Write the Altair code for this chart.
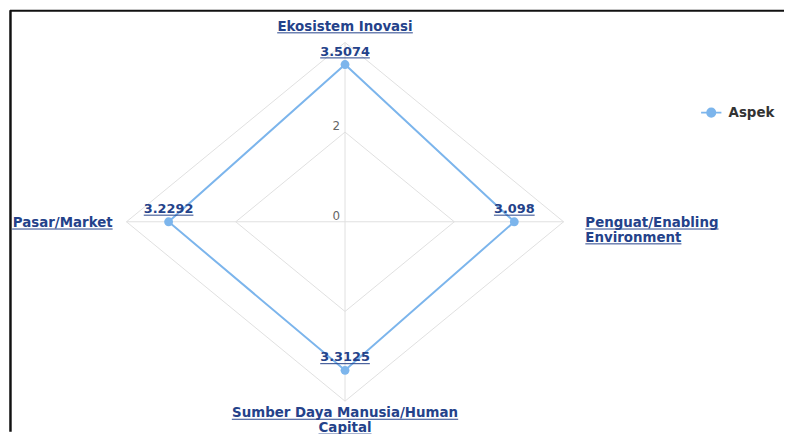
import math
import altair as alt
import pandas as pd

# ---------------- data ----------------
categories = ["Ekosistem Inovasi", "Penguat/Enabling Environment",
              "Sumber Daya Manusia/Human Capital", "Pasar/Market"]
category_lines = [["Ekosistem Inovasi"], ["Penguat/Enabling", "Environment"],
                  ["Sumber Daya Manusia/Human", "Capital"], ["Pasar/Market"]]
values = [3.5074, 3.098, 3.3125, 3.2292]
value_labels = ["3.5074", "3.098", "3.3125", "3.2292"]
tick_values = [0, 2]
grid_levels = [2, 4]
axis_max = 4
series_name = "Aspek"

# ---------------- layout / style ----------------
W, H = 784, 426
CX, CY = 340.5, 213.8          # radar centre inside the plot (px)
RX, RY = 55.2, 45.3            # px per unit, horizontal / vertical
LINE = "#7cb5ec"
LABEL = "#24428a"
GRID = "#e0e0e0"
FONT = "DejaVu Sans"
FS = 13
CFS = 13.5
LH = 15

EM = {' ': .348, '.': .380, '/': .365, 'A': .774, 'C': .734, 'D': .830, 'E': .683,
      'H': .837, 'I': .372, 'M': .995, 'P': .733, 'S': .720, 'a': .675, 'b': .716,
      'c': .593, 'e': .678, 'g': .716, 'h': .712, 'i': .343, 'k': .665, 'l': .343,
      'm': 1.042, 'n': .712, 'o': .687, 'p': .716, 'r': .493, 's': .595, 't': .478,
      'u': .712, 'v': .652, 'y': .652}


def text_w(s, fs=FS):
    return sum(EM.get(c, .696 if c.isdigit() else .68) for c in s) * fs


n = len(categories)
xs = alt.Scale(domain=[-CX / RX, (W - CX) / RX], nice=False, zero=False)
ys = alt.Scale(domain=[-(H - CY) / RY, CY / RY], nice=False, zero=False)


def X(f):
    return alt.X(f, type="quantitative", scale=xs, axis=None)


def Y(f):
    return alt.Y(f, type="quantitative", scale=ys, axis=None)


def ang(i):
    return 2 * math.pi * i / n


# ---------------- frame ----------------
frame_top = alt.Chart(pd.DataFrame({"a": [0]})).mark_rule(color="#111", strokeWidth=2).encode(
    x=alt.value(2), x2=alt.value(W), y=alt.value(0.5))
frame_left = alt.Chart(pd.DataFrame({"a": [0]})).mark_rule(color="#111", strokeWidth=2.5).encode(
    x=alt.value(2.5), y=alt.value(0), y2=alt.value(H))

# ---------------- grid ----------------
grid_df = pd.DataFrame([
    {"level": lv, "i": i, "x": lv * math.sin(ang(i)), "y": lv * math.cos(ang(i))}
    for lv in grid_levels for i in range(n + 1)
])
grid = alt.Chart(grid_df).mark_line(color=GRID, strokeWidth=1).encode(
    x=X("x"), y=Y("y"), detail="level:N", order="i:Q")

spoke_df = pd.DataFrame([
    {"x0": 0.0, "y0": 0.0, "x2": axis_max * math.sin(ang(i)), "y2": axis_max * math.cos(ang(i))}
    for i in range(n)
])
spokes = alt.Chart(spoke_df).mark_rule(color=GRID, strokeWidth=1).encode(
    x=X("x0"), y=Y("y0"), x2="x2:Q", y2="y2:Q")

tick_df = pd.DataFrame({"v": tick_values, "t": [str(v) for v in tick_values], "x0": 0.0})
ticks = alt.Chart(tick_df).mark_text(
    align="right", baseline="alphabetic", dx=-5, dy=-2, font=FONT, fontSize=12, color="#666666"
).encode(x=X("x0"), y=Y("v"), text="t:N")

# ---------------- series ----------------
ser_df = pd.DataFrame({
    "idx": list(range(n)) + [0],
    "order": list(range(n + 1)),
    "category": categories + [categories[0]],
    "value": values + [values[0]],
    "label": value_labels + [value_labels[0]],
    "series": series_name,
})
ser = alt.Chart(ser_df).transform_calculate(
    x=f"datum.value * sin(datum.idx * 2 * PI / {n})",
    y=f"datum.value * cos(datum.idx * 2 * PI / {n})",
)
legend_path = "M-1,0L1,0M0.4,0A0.4,0.4,0,1,1,-0.4,0A0.4,0.4,0,1,1,0.4,0Z"
line = ser.mark_line(strokeWidth=2).encode(
    x=X("x"), y=Y("y"), order="order:Q",
    color=alt.Color("series:N", scale=alt.Scale(domain=[series_name], range=[LINE]),
                    legend=alt.Legend(orient="none", legendX=699, legendY=92, title=None,
                                      symbolType=legend_path, symbolSize=420,
                                      symbolStrokeWidth=2, symbolFillColor=LINE,
                                      symbolStrokeColor=LINE, labelFont=FONT,
                                      labelFontWeight="bold", labelFontSize=13.5,
                                      labelColor="#333333", labelOffset=6, padding=0)))
pts_df = ser_df[ser_df["order"] < n]
pts_base = alt.Chart(pts_df).transform_calculate(
    x=f"datum.value * sin(datum.idx * 2 * PI / {n})",
    y=f"datum.value * cos(datum.idx * 2 * PI / {n})",
)
points = pts_base.mark_point(filled=True, size=80, color=LINE, opacity=1).encode(x=X("x"), y=Y("y"))
vlabels = pts_base.mark_text(
    align="center", baseline="alphabetic", dy=-9, font=FONT, fontSize=FS,
    fontWeight="bold", color=LABEL).encode(x=X("x"), y=Y("y"), text="label:N")

ul_df = pts_df.copy()
ul_df["hw"] = [text_w(s) / 2 for s in ul_df["label"]]
vunder = alt.Chart(ul_df).transform_calculate(
    xa=f"datum.value * sin(datum.idx * 2 * PI / {n}) - datum.hw / {RX}",
    xb=f"datum.value * sin(datum.idx * 2 * PI / {n}) + datum.hw / {RX}",
    yu=f"datum.value * cos(datum.idx * 2 * PI / {n}) + 6.7 / {RY}",
).mark_rule(color=LABEL, strokeWidth=1).encode(x=X("xa"), x2="xb:Q", y=Y("yu"))

# ---------------- category labels ----------------
placement = {0: ("center", 0, -12), 1: ("left", 22, 5), 2: ("center", 0, 16), 3: ("right", -14, 5)}
cat_layers = []
for i, lines in enumerate(category_lines):
    align, dx, dy = placement[i]
    vx = axis_max * math.sin(ang(i))
    vy = axis_max * math.cos(ang(i))
    rows = []
    for j, t in enumerate(lines):
        w = text_w(t, CFS)
        if align == "center":
            a, b = dx - w / 2, dx + w / 2
        elif align == "left":
            a, b = dx, dx + w
        else:
            a, b = dx - w, dx
        rows.append({"t": t, "x": vx, "y": vy - j * LH / RY,
                     "xa": vx + a / RX, "xb": vx + b / RX,
                     "yu": vy - (dy + j * LH + 2.3) / RY})
    df = pd.DataFrame(rows)
    cat_layers.append(alt.Chart(df).mark_text(
        align=align, baseline="alphabetic", dx=dx, dy=dy, font=FONT, fontSize=CFS,
        fontWeight="bold", color=LABEL).encode(x=X("x"), y=Y("y"), text="t:N"))
    cat_layers.append(alt.Chart(df).mark_rule(color=LABEL, strokeWidth=1).encode(
        x=X("xa"), x2="xb:Q", y=Y("yu")))

chart = alt.layer(
    grid, spokes, ticks, line, points, vlabels, vunder, *cat_layers, frame_top, frame_left
).properties(
    width=W, height=H, padding=0, background="white",
    autosize=alt.AutoSizeParams(type="none"),
).configure_view(stroke=None)

chart.save("out.html", embed_options={"renderer": "svg", "actions": False})
